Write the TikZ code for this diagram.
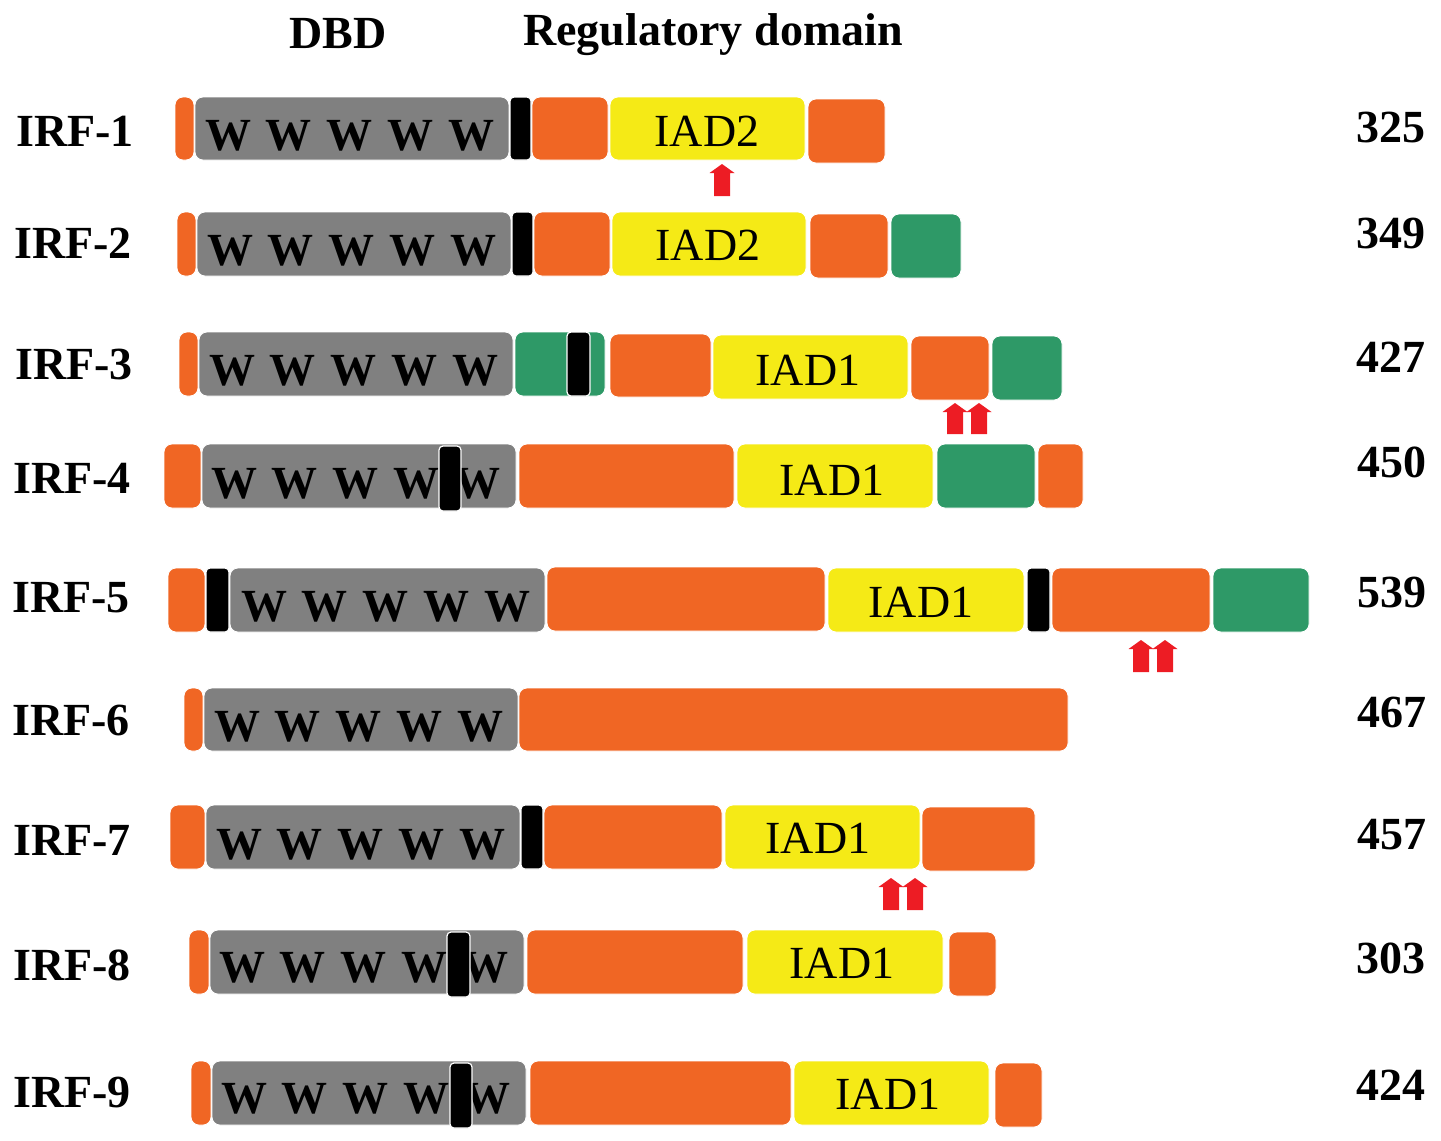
\documentclass[tikz,border=0pt]{standalone}
\usepackage{fontspec}
\setmainfont{Liberation Serif}
\definecolor{og}{RGB}{240,102,36}
\definecolor{gy}{RGB}{128,128,128}
\definecolor{yl}{RGB}{245,234,22}
\definecolor{gn}{RGB}{46,153,103}
\definecolor{rd}{RGB}{237,28,36}
\tikzset{
  seg/.style={rounded corners=8pt,inner sep=0pt,outer sep=0pt,draw=white,line width=0.8pt},
  blkbar/.style={rounded corners=4pt,inner sep=0pt,outer sep=0pt,fill=black,draw=white,line width=1.2pt},
  big/.style={font=\fontsize{46}{50}\selectfont,inner sep=0pt},
  bigb/.style={font=\fontsize{46}{50}\selectfont\bfseries,inner sep=0pt},
  wtext/.style={font=\fontsize{46}{50}\selectfont\bfseries,inner sep=0pt},
}
\newcommand{\wrow}{W\hspace{15pt}W\hspace{15pt}W\hspace{15pt}W\hspace{15pt}W}
% name, x1, x2, y1, y2, colour
\newcommand{\seg}[6]{\node[seg,fill=#6,minimum width={#3-#2},minimum height={#5-#4}] (#1) at ({(#2+#3)/2},{(#4+#5)/2}) {};}
\newcommand{\blk}[5]{\node[blkbar,minimum width={#3-#2},minimum height={#5-#4}] (#1) at ({(#2+#3)/2},{(#4+#5)/2}) {};}
% centre x, top y, bottom y
\newcommand{\uparrw}[3]{\fill[rd] (#1-8,#3) -- (#1-8,#2+9) -- (#1-12.5,#2+9) -- (#1,#2) -- (#1+12.5,#2+9) -- (#1+8,#2+9) -- (#1+8,#3) -- cycle;}
\begin{document}
\begin{tikzpicture}[x=1pt,y=-1pt]
\useasboundingbox (0,0) rectangle (1441,1141);
% headers
\node[bigb,anchor=base] (hdbd) at (338,48) {DBD};
\node[bigb,anchor=base] (hreg) at (713,45) {Regulatory domain};

% ---------- IRF-1
\node[bigb,anchor=east] (l1) at (134,131) {IRF-1};
\seg{a1}{175}{194}{97}{160}{og}
\seg{g1}{195}{509}{97}{160}{gy}
\node[wtext] (w1) at (350,136) {\wrow};
\blk{k1}{510}{531}{97}{160}
\seg{b1}{532}{608}{97}{160}{og}
\seg{y1}{610}{805}{97}{160}{yl}
\node[big] (t1) at (707,131) {IAD2};
\seg{c1}{808}{885}{99}{163}{og}
\uparrw{722}{164}{196}
\node[bigb] (n1) at (1391,127) {325};

% ---------- IRF-2
\node[bigb,anchor=east] (l2) at (132,243) {IRF-2};
\seg{a2}{177}{196}{212}{276}{og}
\seg{g2}{197}{511}{212}{276}{gy}
\node[wtext] (w2) at (352,251) {\wrow};
\blk{k2}{512}{533}{212}{276}
\seg{b2}{534}{610}{212}{276}{og}
\seg{y2}{612}{806}{212}{276}{yl}
\node[big] (t2) at (708,245) {IAD2};
\seg{c2}{810}{888}{214}{278}{og}
\seg{d2}{891}{961}{214}{278}{gn}
\node[bigb] (n2) at (1391,233) {349};

% ---------- IRF-3
\node[bigb,anchor=east] (l3) at (133,364) {IRF-3};
\seg{a3}{179}{198}{332}{396}{og}
\seg{g3}{199}{513}{332}{396}{gy}
\node[wtext] (w3) at (354,371) {\wrow};
\seg{e3}{515}{605}{332}{396}{gn}
\blk{k3}{567}{590}{332}{396}
\seg{b3}{610}{711}{334}{397}{og}
\seg{y3}{713}{908}{335}{399}{yl}
\node[big] (t3) at (808,370) {IAD1};
\seg{c3}{911}{989}{336}{400}{og}
\seg{d3}{992}{1062}{336}{400}{gn}
\uparrw{955}{403}{434}
\uparrw{979}{403}{434}
\node[bigb] (n3) at (1391,357) {427};

% ---------- IRF-4
\node[bigb,anchor=east] (l4) at (131,478) {IRF-4};
\seg{a4}{164}{201}{444}{508}{og}
\seg{g4}{202}{516}{444}{508}{gy}
\node[wtext] (w4) at (356,484) {\wrow};
\blk{k4}{439}{461}{446}{511}
\seg{b4}{519}{734}{444}{508}{og}
\seg{y4}{737}{933}{444}{508}{yl}
\node[big] (t4) at (832,480) {IAD1};
\seg{c4}{937}{1035}{444}{508}{gn}
\seg{d4}{1038}{1083}{444}{508}{og}
\node[bigb] (n4) at (1392,462) {450};

% ---------- IRF-5
\node[bigb,anchor=east] (l5) at (130,598) {IRF-5};
\seg{a5}{168}{205}{568}{632}{og}
\blk{k5}{206}{229}{568}{632}
\seg{g5}{230}{545}{568}{632}{gy}
\node[wtext] (w5) at (386,607) {\wrow};
\seg{b5}{547}{825}{567}{631}{og}
\seg{y5}{828}{1024}{568}{632}{yl}
\node[big] (t5) at (921,602) {IAD1};
\blk{k5b}{1027}{1050}{568}{632}
\seg{c5}{1052}{1210}{568}{632}{og}
\seg{d5}{1213}{1309}{568}{632}{gn}
\uparrw{1141}{640}{672}
\uparrw{1165}{640}{672}
\node[bigb] (n5) at (1392,592) {539};

% ---------- IRF-6
\node[bigb,anchor=east] (l6) at (130,720) {IRF-6};
\seg{a6}{184}{203}{688}{751}{og}
\seg{g6}{204}{518}{688}{751}{gy}
\node[wtext] (w6) at (359,727) {\wrow};
\seg{b6}{519}{1068}{688}{751}{og}
\node[bigb] (n6) at (1392,712) {467};

% ---------- IRF-7
\node[bigb,anchor=east] (l7) at (131,840) {IRF-7};
\seg{a7}{170}{205}{805}{869}{og}
\seg{g7}{206}{520}{805}{869}{gy}
\node[wtext] (w7) at (361,845) {\wrow};
\blk{k7}{521}{543}{805}{869}
\seg{b7}{544}{722}{805}{869}{og}
\seg{y7}{725}{920}{805}{869}{yl}
\node[big] (t7) at (818,838) {IAD1};
\seg{c7}{922}{1035}{807}{871}{og}
\uparrw{891}{878}{910}
\uparrw{915}{878}{910}
\node[bigb] (n7) at (1392,835) {457};

% ---------- IRF-8
\node[bigb,anchor=east] (l8) at (131,965) {IRF-8};
\seg{a8}{189}{209}{930}{994}{og}
\seg{g8}{210}{524}{930}{994}{gy}
\node[wtext] (w8) at (364,968) {\wrow};
\blk{k8}{447}{470}{932}{997}
\seg{b8}{527}{743}{930}{994}{og}
\seg{y8}{747}{943}{930}{994}{yl}
\node[big] (t8) at (842,963) {IAD1};
\seg{c8}{949}{996}{932}{996}{og}
\node[bigb] (n8) at (1391,958) {303};

% ---------- IRF-9
\node[bigb,anchor=east] (l9) at (131,1092) {IRF-9};
\seg{a9}{191}{211}{1061}{1125}{og}
\seg{g9}{212}{526}{1061}{1125}{gy}
\node[wtext] (w9) at (366,1099) {\wrow};
\blk{k9}{450}{472}{1063}{1128}
\seg{b9}{530}{791}{1061}{1125}{og}
\seg{y9}{794}{989}{1061}{1125}{yl}
\node[big] (t9) at (888,1094) {IAD1};
\seg{c9}{995}{1042}{1063}{1127}{og}
\node[bigb] (n9) at (1391,1085) {424};
\end{tikzpicture}
\end{document}
